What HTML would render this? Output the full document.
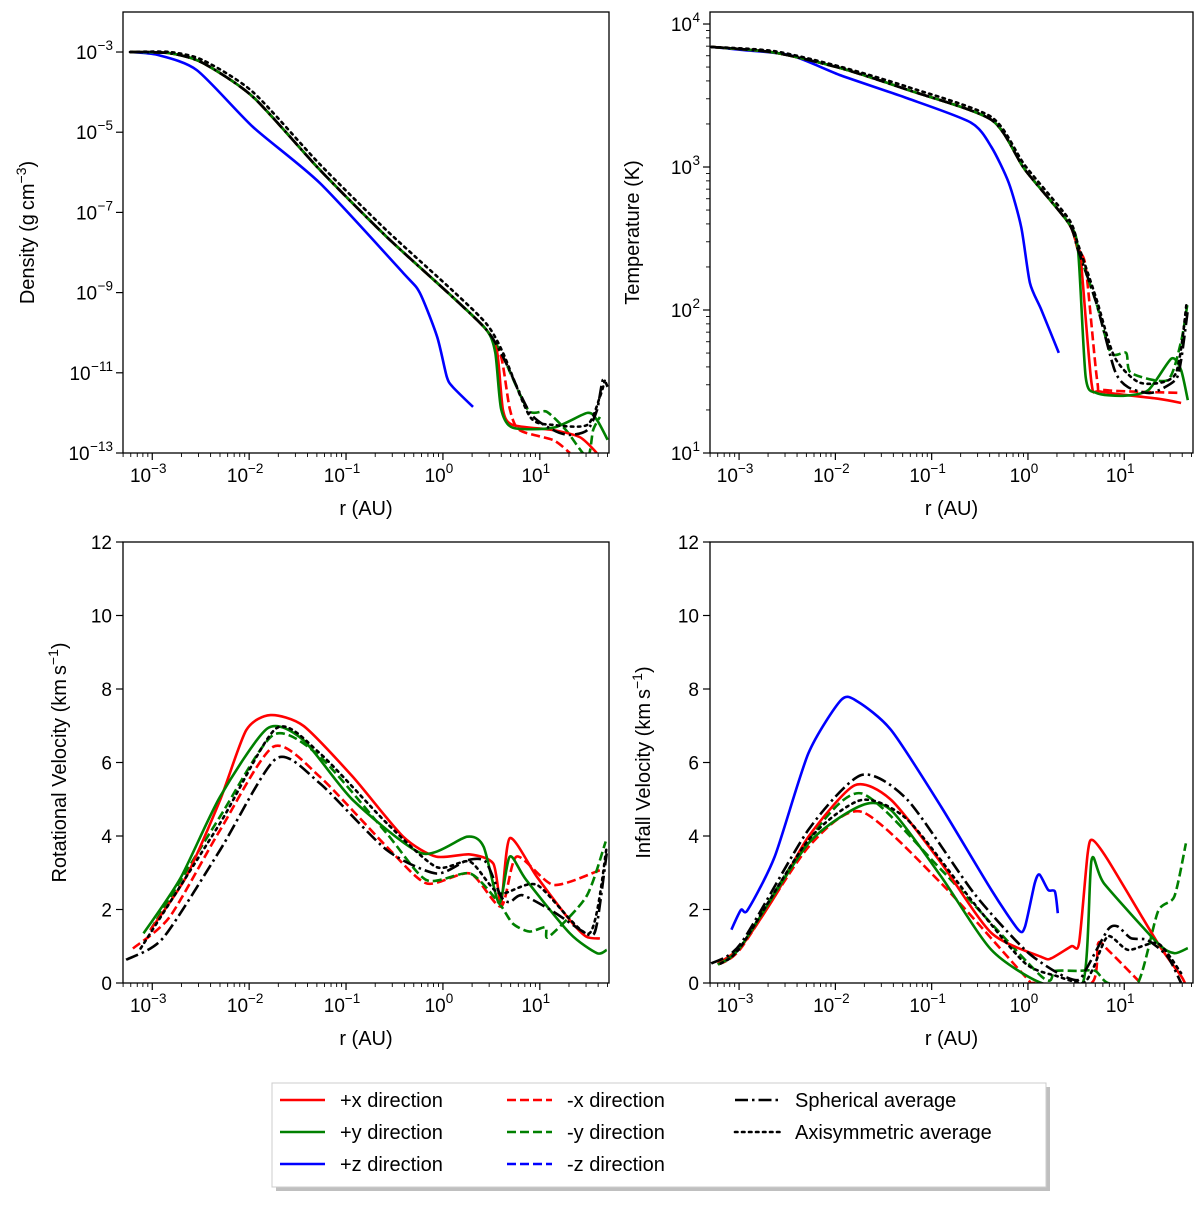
<!DOCTYPE html>
<html><head><meta charset="utf-8"><style>
html,body{margin:0;padding:0;background:#fff;}
svg{display:block;font-family:"Liberation Sans","DejaVu Sans",sans-serif;}
</style></head><body>
<svg id="fig" width="1200" height="1205" viewBox="0 0 1200 1205" xmlns="http://www.w3.org/2000/svg"></svg>
<script>
// ---------- DATA (log10 r in AU, values) ----------
// Density panel (log10 rho)
const dRxP=[-3.23,-2.82,-2.48,-1.96,-1.27,-0.58,0.10,0.45,0.56,0.62,0.72,1.14,1.41,1.55,1.62];
const dVxP=[-3.0,-3.03,-3.27,-4.12,-5.94,-7.61,-9.11,-9.93,-10.5,-11.93,-12.3,-12.43,-12.6,-12.9,-13.1];
const dRxM=[-3.23,-2.82,-2.48,-1.96,-1.27,-0.58,0.10,0.45,0.60,0.69,0.79,1.14,1.31];
const dVxM=[-3.0,-3.03,-3.27,-4.12,-5.94,-7.61,-9.11,-9.93,-10.6,-11.9,-12.43,-12.68,-13.0];
const dRyP=[-3.23,-2.82,-2.48,-1.96,-1.27,-0.58,0.10,0.45,0.54,0.60,0.72,1.14,1.49,1.59,1.70];
const dVyP=[-3.0,-3.03,-3.27,-4.12,-5.94,-7.61,-9.11,-9.93,-10.5,-11.9,-12.37,-12.37,-12.0,-12.18,-12.67];
const dRyM=[-3.23,-2.82,-2.48,-1.96,-1.27,-0.58,0.10,0.45,0.62,0.88,1.07,1.27,1.49,1.55,1.62];
const dVyM=[-3.0,-3.03,-3.27,-4.12,-5.94,-7.61,-9.11,-9.93,-10.6,-11.93,-11.97,-12.43,-13.1,-12.43,-12.1];
const dRzP=[-3.23,-2.95,-2.54,-1.96,-1.27,-0.41,-0.24,-0.06,0.04,0.10,0.31];
const dVzP=[-3.0,-3.07,-3.45,-4.87,-6.27,-8.51,-9.0,-10.1,-11.1,-11.35,-11.85];
const dRsph=[-3.23,-2.82,-2.48,-1.96,-1.27,-0.58,0.10,0.45,0.62,0.90,1.14,1.31,1.49,1.59,1.65,1.70];
const dVsph=[-3.0,-3.03,-3.27,-4.12,-5.94,-7.61,-9.11,-9.93,-10.6,-12.0,-12.43,-12.55,-12.43,-11.93,-11.18,-11.35];
const dRaxi=[-3.23,-2.82,-2.48,-1.96,-1.27,-0.58,0.10,0.45,0.62,0.90,1.14,1.49,1.62,1.67];
const dVaxi=[-3.0,-3.0,-3.2,-4.0,-5.8,-7.45,-8.95,-9.78,-10.5,-12.1,-12.3,-12.3,-11.6,-11.2];
// Temperature panel (log10 T)
const tRxP=[-3.29,-2.63,-1.94,-1.25,-0.38,-0.03,0.42,0.52,0.55,0.66,0.75,1.35,1.59];
const tVxP=[3.84,3.80,3.69,3.54,3.33,2.98,2.61,2.42,2.35,1.49,1.43,1.38,1.35];
const tRxM=[-3.29,-2.63,-1.94,-1.25,-0.38,-0.03,0.42,0.52,0.60,0.72,0.80,1.59];
const tVxM=[3.84,3.80,3.69,3.54,3.33,2.98,2.61,2.42,2.30,1.50,1.44,1.42];
const tRyP=[-3.29,-2.63,-1.94,-1.25,-0.38,-0.03,0.42,0.52,0.60,0.71,0.99,1.25,1.49,1.59,1.66];
const tVyP=[3.84,3.80,3.69,3.54,3.33,2.98,2.61,2.42,1.53,1.42,1.40,1.44,1.66,1.58,1.37];
const tRyM=[-3.29,-2.63,-1.94,-1.25,-0.38,-0.03,0.42,0.52,0.71,0.86,1.02,1.07,1.45,1.59,1.66];
const tVyM=[3.84,3.80,3.69,3.54,3.33,2.98,2.61,2.42,2.05,1.70,1.70,1.56,1.51,1.78,2.06];
const tRzP=[-3.29,-2.98,-2.46,-1.94,-1.25,-0.59,-0.38,-0.20,-0.07,0.02,0.14,0.32];
const tVzP=[3.84,3.82,3.78,3.64,3.48,3.31,3.14,2.89,2.58,2.19,2.0,1.70];
const tRsph=[-3.29,-2.63,-1.94,-1.25,-0.38,-0.03,0.42,0.52,0.71,0.90,1.04,1.28,1.53,1.59,1.66];
const tVsph=[3.84,3.80,3.69,3.54,3.33,2.98,2.61,2.42,2.05,1.58,1.46,1.42,1.51,1.65,2.0];
const tRaxi=[-3.29,-2.63,-1.94,-1.25,-0.38,-0.03,0.42,0.52,0.71,0.90,1.17,1.53,1.65];
const tVaxi=[3.84,3.81,3.70,3.56,3.35,3.01,2.64,2.46,2.08,1.67,1.49,1.55,2.06];
// Rotational velocity (km/s)
const rRxP=[-3.02,-2.65,-2.30,-2.03,-1.78,-1.44,-0.93,-0.41,-0.07,0.28,0.52,0.60,0.69,0.97,1.31,1.48,1.62];
const rVxP=[1.44,2.89,4.98,6.88,7.29,7.0,5.61,3.98,3.44,3.5,3.25,2.17,3.94,2.89,1.71,1.26,1.21];
const rRxM=[-3.20,-2.82,-2.30,-1.75,-1.27,-0.58,-0.17,0.28,0.60,0.76,1.14,1.62];
const rVxM=[0.94,1.80,4.16,6.43,5.61,3.71,2.71,2.98,2.08,3.44,2.67,3.07];
const rRyP=[-3.09,-2.71,-2.30,-1.81,-1.44,-0.93,-0.22,0.25,0.42,0.58,0.69,0.86,1.31,1.59,1.69];
const rVyP=[1.35,2.85,5.07,6.93,6.61,4.98,3.53,3.98,3.71,2.17,3.44,2.80,1.35,0.81,0.9];
const rRyM=[-3.02,-2.30,-1.75,-1.27,-0.58,-0.17,0.28,0.58,0.72,0.89,1.06,1.09,1.48,1.68];
const rVyM=[1.44,4.53,6.75,6.16,4.07,2.8,2.98,2.17,1.62,1.4,1.52,1.25,2.35,3.85];
const rRsph=[-3.27,-2.89,-2.30,-1.72,-1.27,-0.58,-0.07,0.25,0.44,0.60,0.69,0.82,1.14,1.51,1.59,1.69];
const rVsph=[0.63,1.22,3.62,6.11,5.43,3.62,2.98,3.34,3.3,2.35,2.2,2.39,1.94,1.31,1.62,3.53];
const rRaxi=[-3.12,-2.30,-1.72,-1.27,-0.58,-0.07,0.28,0.58,0.97,1.51,1.69];
const rVaxi=[0.94,4.35,6.93,6.25,4.35,3.16,3.3,2.44,2.67,1.35,3.7];
// Infall velocity (km/s)
const iRxP=[-3.22,-2.98,-2.63,-2.28,-1.80,-1.42,-0.90,-0.38,0.14,0.24,0.45,0.53,0.62,0.67,0.83,1.35,1.59,1.63];
const iVxP=[0.53,0.99,2.35,3.98,5.38,4.98,3.26,1.36,0.71,0.67,1.0,1.08,3.53,3.89,3.35,1.08,0.19,0];
const iRxM=[-3.22,-2.98,-2.28,-1.73,-0.90,-0.03,0.07,0.66,0.73,0.83,1.17];
const iVxM=[0.5,0.95,3.7,4.66,2.71,0.18,0,0,1.08,0.9,0];
const iRyP=[-3.22,-2.98,-2.28,-1.73,-1.42,-0.90,-0.38,0.14,0.57,0.66,0.79,1.35,1.52,1.66];
const iVyP=[0.5,1.0,3.8,4.83,4.7,2.89,0.9,0,0,3.34,2.71,1.08,0.81,0.95];
const iRyM=[-3.22,-2.98,-2.28,-1.73,-0.90,0.14,0.28,0.52,0.70,0.83,1.14,1.35,1.52,1.64];
const iVyM=[0.5,1.0,3.9,5.16,3.08,0.18,0.33,0.33,0.33,0,0,1.94,2.35,3.80];
const iRzP=[-3.08,-2.98,-2.91,-2.63,-2.28,-1.94,-1.77,-1.42,-0.90,-0.38,-0.10,-0.03,0.07,0.12,0.21,0.28,0.31];
const iVzP=[1.45,1.99,1.99,3.44,6.25,7.70,7.66,6.88,4.79,2.53,1.45,1.54,2.71,2.95,2.53,2.49,1.9];
const iRsph=[-3.29,-2.98,-2.28,-1.73,-1.25,-0.56,-0.03,0.31,0.52,0.62,0.83,0.93,1.07,1.24,1.45,1.59];
const iVsph=[0.53,1.08,4.17,5.66,4.98,2.44,0.9,0.27,0.08,0.45,1.45,1.54,1.22,1.17,0.72,0];
const iRaxi=[-3.19,-2.98,-2.28,-1.73,-1.25,-0.56,-0.03,0.31,0.57,0.67,0.83,1.04,1.35,1.59];
const iVaxi=[0.53,1.0,3.89,4.98,4.44,2.17,0.54,0.18,0,0.36,1.27,0.9,1.08,0.27];
// tick labels
const xTickExp=[-3,-2,-1,0,1];
const densTickExp=[-13,-11,-9,-7,-5,-3];
const tempTickExp=[1,2,3,4];
const velTicks=[0,2,4,6,8,10,12];

const NS="http://www.w3.org/2000/svg";
const svg=document.getElementById('fig');
function el(tag,attrs,parent){const e=document.createElementNS(NS,tag);for(const k in attrs)e.setAttribute(k,attrs[k]);(parent||svg).appendChild(e);return e;}
const STY={solid:{dash:null},dashed:{dash:"9,4"},dashdot:{dash:"13,4,2.5,4"},dotted:{dash:"2.5,4.5"}};
const C={red:"#ff0000",green:"#008000",blue:"#0000ff",black:"#000000"};

function smoothPath(pts){
 if(pts.length<3){return pts.map((p,i)=>(i?'L':'M')+p[0].toFixed(1)+','+p[1].toFixed(1)).join('');}
 let d='M'+pts[0][0].toFixed(1)+','+pts[0][1].toFixed(1);
 const k=0.12;
 for(let i=0;i<pts.length-1;i++){
  const p0=pts[i-1]||pts[i],p1=pts[i],p2=pts[i+1],p3=pts[i+2]||p2;
  const c1=[p1[0]+(p2[0]-p0[0])*k,p1[1]+(p2[1]-p0[1])*k];
  const c2=[p2[0]-(p3[0]-p1[0])*k,p2[1]-(p3[1]-p1[1])*k];
  d+='C'+c1[0].toFixed(1)+','+c1[1].toFixed(1)+' '+c2[0].toFixed(1)+','+c2[1].toFixed(1)+' '+p2[0].toFixed(1)+','+p2[1].toFixed(1);
 }
 return d;
}

function panel(cfg){
 const g=el('g',{});
 
 
 const L=cfg.x0,R=cfg.x1,T=cfg.y0,B=cfg.y1;
 const xmin=-3.302,xmax=1.714;
 const sx=v=>L+(v-xmin)/(xmax-xmin)*(R-L);
 const sy=v=>B-(v-cfg.ymin)/(cfg.ymax-cfg.ymin)*(B-T);
 const cp=el('clipPath',{id:'cp'+cfg.id},g);
 el('rect',{x:L,y:T,width:R-L,height:B-T},cp);
 const lg=el('g',{'clip-path':'url(#cp'+cfg.id+')'},g);
 cfg.series.forEach(s=>{
  const pts=s.r.map((rv,i)=>[sx(rv),sy(s.v[i])]);
  const p=el('path',{d:smoothPath(pts),fill:'none',stroke:C[s.c],'stroke-width':2.6,'stroke-linejoin':'round','stroke-linecap':s.ls==='dotted'?'round':'butt'},lg);
  if(STY[s.ls].dash)p.setAttribute('stroke-dasharray',STY[s.ls].dash);
  
  
 });
 const fr=el('rect',{x:L,y:T,width:R-L,height:B-T,fill:'none',stroke:'#000','stroke-width':1.3},g);
 
 
 for(let e=-4;e<=2;e++){
  for(let m=1;m<10;m++){
   const v=e+Math.log10(m);
   if(v<xmin||v>xmax)continue;
   const X=sx(v),len=m===1?7:4;
   el('line',{x1:X,y1:B,x2:X,y2:B+len,stroke:'#000','stroke-width':m===1?1.2:0.9},g);
  }
 }
 xTickExp.forEach(e=>{
  const t=el('text',{x:sx(e)-4,y:B+29,'font-size':19,'text-anchor':'middle'},g);
  t.textContent='10';
  const s=el('tspan',{dy:-9,'font-size':13.5},t);s.textContent=String(e).replace('-','\u2212');
  
  
 });
 const xl=el('text',{x:(L+R)/2,y:B+62,'font-size':20,'text-anchor':'middle'},g);
 xl.textContent='r (AU)';
 
 
 if(cfg.kind==='log'){
  if(cfg.minor){
   for(let e=Math.floor(cfg.ymin);e<=cfg.ymax;e++)for(let m=2;m<10;m++){
    const v=e+Math.log10(m);if(v<cfg.ymin||v>cfg.ymax)continue;
    el('line',{x1:L,y1:sy(v),x2:L-4,y2:sy(v),stroke:'#000','stroke-width':0.9},g);
   }
  }
  cfg.ticks.forEach(e=>{
   const Y=sy(e);
   el('line',{x1:L,y1:Y,x2:L-7,y2:Y,stroke:'#000','stroke-width':1.2},g);
   const sp=el('text',{x:L-10,y:Y-2,'font-size':13.5,'text-anchor':'end'},g);
   sp.textContent=String(e).replace('-','\u2212');
   
   
   const w=sp.getComputedTextLength();
   const t=el('text',{x:L-10-w-0.5,y:Y+7,'font-size':19,'text-anchor':'end'},g);
   t.textContent='10';
   
   
  });
 }else{
  cfg.ticks.forEach(v=>{
   const Y=sy(v);
   el('line',{x1:L,y1:Y,x2:L-7,y2:Y,stroke:'#000','stroke-width':1.2},g);
   const t=el('text',{x:L-11,y:Y+7,'font-size':19,'text-anchor':'end'},g);
   t.textContent=v;
   
   
  });
 }
 const yl=el('text',{x:0,y:0,'font-size':20,'text-anchor':'middle',transform:`translate(${cfg.ylx},${(T+B)/2}) rotate(-90)`},g);
 cfg.ylab(yl);
 
 
}
function sup(t,txt){const s=el('tspan',{dy:-8,'font-size':14},t);s.textContent=txt;const r=el('tspan',{dy:8},t);r.textContent=')';}
function S(n,c,ls,r,v){return {n,c,ls,r,v};}

panel({id:1,name:'density-panel',x0:123,x1:609,y0:12,y1:453,kind:'log',ymin:-13,ymax:-2.002,ticks:densTickExp,ylx:34,
 ylab:t=>{t.textContent='Density (g\u2009cm';sup(t,'\u22123');},
 series:[S('density-plus-z','blue','solid',dRzP,dVzP),S('density-minus-x','red','dashed',dRxM,dVxM),S('density-minus-y','green','dashed',dRyM,dVyM),
  S('density-plus-x','red','solid',dRxP,dVxP),S('density-plus-y','green','solid',dRyP,dVyP),S('density-spherical','black','dashdot',dRsph,dVsph),S('density-axisymmetric','black','dotted',dRaxi,dVaxi)]});
panel({id:2,name:'temperature-panel',x0:710,x1:1193,y0:12,y1:453,kind:'log',minor:true,ymin:1,ymax:4.084,ticks:tempTickExp,ylx:639,
 ylab:t=>{t.textContent='Temperature (K)';},
 series:[S('temp-plus-z','blue','solid',tRzP,tVzP),S('temp-minus-x','red','dashed',tRxM,tVxM),S('temp-minus-y','green','dashed',tRyM,tVyM),
  S('temp-plus-x','red','solid',tRxP,tVxP),S('temp-plus-y','green','solid',tRyP,tVyP),S('temp-spherical','black','dashdot',tRsph,tVsph),S('temp-axisymmetric','black','dotted',tRaxi,tVaxi)]});
panel({id:3,name:'rotational-velocity-panel',x0:123,x1:609,y0:542,y1:983,kind:'lin',ymin:0,ymax:12,ticks:velTicks,ylx:66,
 ylab:t=>{t.textContent='Rotational Velocity (km\u2009s';sup(t,'\u22121');},
 series:[S('rot-minus-x','red','dashed',rRxM,rVxM),S('rot-minus-y','green','dashed',rRyM,rVyM),
  S('rot-plus-x','red','solid',rRxP,rVxP),S('rot-plus-y','green','solid',rRyP,rVyP),S('rot-spherical','black','dashdot',rRsph,rVsph),S('rot-axisymmetric','black','dotted',rRaxi,rVaxi)]});
panel({id:4,name:'infall-velocity-panel',x0:710,x1:1193,y0:542,y1:983,kind:'lin',ymin:0,ymax:12,ticks:velTicks,ylx:650,
 ylab:t=>{t.textContent='Infall Velocity (km\u2009s';sup(t,'\u22121');},
 series:[S('infall-plus-z','blue','solid',iRzP,iVzP),S('infall-minus-x','red','dashed',iRxM,iVxM),S('infall-minus-y','green','dashed',iRyM,iVyM),
  S('infall-plus-x','red','solid',iRxP,iVxP),S('infall-plus-y','green','solid',iRyP,iVyP),S('infall-spherical','black','dashdot',iRsph,iVsph),S('infall-axisymmetric','black','dotted',iRaxi,iVaxi)]});

const lgG=el('g',{});


el('rect',{x:276,y:1087,width:774,height:104,fill:'#7f7f7f',opacity:0.5},lgG);
el('rect',{x:272,y:1083,width:774,height:104,fill:'#fff',stroke:'#ccc','stroke-width':1},lgG);
const entries=[['+x direction','red','solid',0,0],['+y direction','green','solid',0,1],['+z direction','blue','solid',0,2],
 ['-x direction','red','dashed',1,0],['-y direction','green','dashed',1,1],['-z direction','blue','dashed',1,2],
 ['Spherical average','black','dashdot',2,0],['Axisymmetric average','black','dotted',2,1]];
const colX=[280,507,735];
entries.forEach(en=>{
 const x=colX[en[3]],y=1100+en[4]*32;
 const eg=el('g',{},lgG);
 
 
 const ln=el('line',{x1:x,y1:y,x2:x+45,y2:y,stroke:C[en[1]],'stroke-width':2.6,'stroke-linecap':en[2]==='dotted'?'round':'butt'},eg);
 if(STY[en[2]].dash)ln.setAttribute('stroke-dasharray',STY[en[2]].dash);
 const t=el('text',{x:x+60,y:y+7,'font-size':20},eg);
 t.textContent=en[0];
});
</script>
</body></html>
